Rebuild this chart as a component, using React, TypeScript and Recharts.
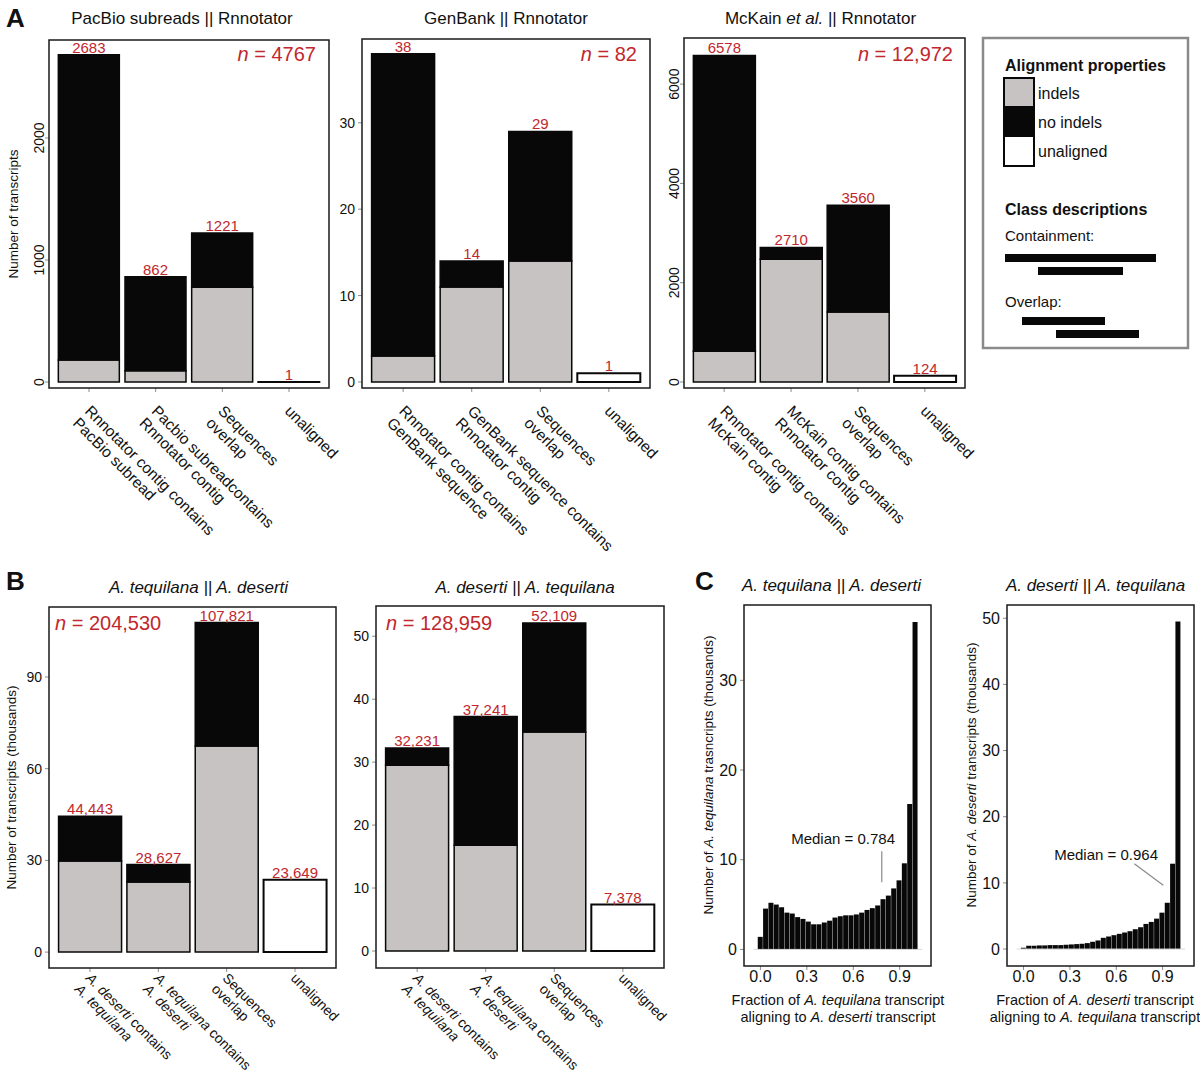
import React from 'react';
import { BarChart, Bar, XAxis, YAxis, LabelList, ReferenceLine, ReferenceDot } from 'recharts';

const FONT = '"Liberation Sans", Arial, Helvetica, sans-serif';
const RED = '#c1272d';
const GREY = '#c6c3c2';
const INK = '#080808';
const TICK_GREY = '#8c8c8c';

// A: PacBio subreads || Rnnotator
const pacbioCategories = ['Rnnotator contig contains|PacBio subread', 'Pacbio subreadcontains|Rnnotator contig', 'Sequences|overlap', 'unaligned'];
const pacbioIndels = [180, 92, 776, 0];
const pacbioNoIndels = [2503, 770, 445, 0];
const pacbioUnaligned = [0, 0, 0, 1];
const pacbioTotals = [2683, 862, 1221, 1];
const pacbioTicks = [0, 1000, 2000];

// A: GenBank || Rnnotator
const genbankCategories = ['Rnnotator contig contains|GenBank sequence', 'GenBank sequence contains|Rnnotator contig', 'Sequences|overlap', 'unaligned'];
const genbankIndels = [3, 11, 14, 0];
const genbankNoIndels = [35, 3, 15, 0];
const genbankUnaligned = [0, 0, 0, 1];
const genbankTotals = [38, 14, 29, 1];
const genbankTicks = [0, 10, 20, 30];

// A: McKain et al. || Rnnotator
const mckainCategories = ['Rnnotator contig contains|McKain contig', 'McKain contig contains|Rnnotator contig', 'Sequences|overlap', 'unaligned'];
const mckainIndels = [620, 2470, 1410, 0];
const mckainNoIndels = [5958, 240, 2150, 0];
const mckainUnaligned = [0, 0, 0, 124];
const mckainTotals = [6578, 2710, 3560, 124];
const mckainTicks = [0, 2000, 4000, 6000];

// B: agave comparisons (thousands)
const agaveCategories = ['_A. deserti_ contains|_A. tequilana_', '_A. tequilana_ contains|_A. deserti_', 'Sequences|overlap', 'unaligned'];
const tequilanaIndels = [29.8, 22.9, 67.4, 0];
const tequilanaNoIndels = [14.643, 5.727, 40.421, 0];
const tequilanaUnaligned = [0, 0, 0, 23.649];
const tequilanaTotals = [44443, 28627, 107821, 23649];
const tequilanaTicks = [0, 30, 60, 90];

const desertiIndels = [29.5, 16.8, 34.8, 0];
const desertiNoIndels = [2.731, 20.441, 17.309, 0];
const desertiUnaligned = [0, 0, 0, 7.378];
const desertiTotals = [32231, 37241, 52109, 7378];
const desertiTicks = [0, 10, 20, 30, 40, 50];

// C: histograms, 30 bins (thousands)
const binCenters = [0, 0.0345, 0.069, 0.1034, 0.1379, 0.1724, 0.2069, 0.2414, 0.2759, 0.3103, 0.3448, 0.3793, 0.4138, 0.4483, 0.4828, 0.5172, 0.5517, 0.5862, 0.6207, 0.6552, 0.6897, 0.7241, 0.7586, 0.7931, 0.8276, 0.8621, 0.8966, 0.931, 0.9655, 1];
const tequilanaHist = [1.4, 4.55, 5.2, 5.0, 4.7, 4.1, 4.0, 3.6, 3.4, 3.1, 2.8, 2.8, 3.0, 3.2, 3.55, 3.7, 3.8, 3.8, 3.9, 4.1, 4.4, 4.6, 4.9, 5.6, 6.0, 6.8, 7.7, 9.6, 16.2, 36.5];
const desertiHist = [0.2, 0.5, 0.5, 0.55, 0.55, 0.6, 0.6, 0.6, 0.65, 0.7, 0.75, 0.8, 0.9, 1.1, 1.3, 1.7, 1.9, 2.1, 2.3, 2.5, 2.7, 3.0, 3.3, 3.8, 4.1, 4.6, 5.5, 7.0, 12.9, 49.5];
const histTicks = [0, 0.3, 0.6, 0.9];

type Box = { l: number; t: number; r: number; b: number };

const rich = (s: string) =>
  s.split('_').map((seg, j) => (
    <tspan key={j} fontStyle={j % 2 ? 'italic' : 'normal'}>{seg}</tspan>
  ));

const CategoryTick = (props: any) => {
  const { x, y, payload, drop, size } = props;
  const lines = String(payload.value).split('|');
  const ax = x - 5;
  const ay = y + drop;
  return (
    <text x={ax} y={ay} transform={`rotate(45, ${ax}, ${ay})`} fontSize={size} fill="#111" fontFamily={FONT}>
      {lines.map((ln, i) => (
        <tspan key={i} x={ax} dy={i === 0 ? 0 : '1.1em'}>{rich(ln)}</tspan>
      ))}
    </text>
  );
};

const RotatedTick = (props: any) => {
  const { x, y, payload } = props;
  const bx = x + 2;
  return (
    <text x={bx} y={y} transform={`rotate(-90, ${bx}, ${y})`} textAnchor="middle" fontSize={14} fill="#111" fontFamily={FONT}>
      {payload.value}
    </text>
  );
};

function StackPanel(p: {
  box: Box; domain: [number, number]; ticks: number[]; rotateTicks?: boolean; drop: number; catSize: number;
  categories: string[]; indels: number[]; noIndels: number[]; unaligned: number[]; totals: number[]; comma?: boolean;
}) {
  const { box } = p;
  const W = box.r - box.l;
  const H = box.b - box.t;
  const YW = 60, T = 30, R = 70, XH = 200;
  const data = p.categories.map((c, i) => {
    const label = p.comma ? p.totals[i].toLocaleString('en-US') : String(p.totals[i]);
    const onTop = p.unaligned[i] > 0;
    return {
      name: c,
      indels: p.indels[i],
      noIndels: p.noIndels[i],
      unaligned: p.unaligned[i],
      labelNo: onTop ? null : label,
      labelUn: onTop ? label : null,
    };
  });
  const labelStyle = { position: 'top' as const, offset: 2, fill: RED, fontSize: 15, fontFamily: FONT };
  return (
    <div style={{ position: 'absolute', left: box.l - YW, top: box.t - T }}>
      <BarChart width={YW + W + R} height={T + H + XH} data={data} margin={{ top: T, right: R, bottom: 0, left: 0 }} barCategoryGap="4%">
        <XAxis dataKey="name" type="category" height={XH} padding={{ left: W / 42, right: W / 42 }} axisLine={false}
          tickLine={{ stroke: TICK_GREY }} tickSize={4} tickMargin={2} interval={0}
          tick={<CategoryTick drop={p.drop} size={p.catSize} />} />
        <YAxis type="number" width={YW} domain={p.domain} ticks={p.ticks} allowDataOverflow axisLine={false}
          tickLine={{ stroke: TICK_GREY }} tickSize={4} tickMargin={3} interval={0}
          tick={p.rotateTicks ? <RotatedTick /> : { fontSize: 14, fill: '#111', fontFamily: FONT }} />
        <Bar dataKey="indels" stackId="s" fill={GREY} stroke={INK} strokeWidth={1.5} isAnimationActive={false} />
        <Bar dataKey="noIndels" stackId="s" fill={INK} stroke={INK} strokeWidth={1.5} isAnimationActive={false}>
          <LabelList dataKey="labelNo" {...labelStyle} />
        </Bar>
        <Bar dataKey="unaligned" stackId="s" fill="#ffffff" stroke={INK} strokeWidth={2} isAnimationActive={false}>
          <LabelList dataKey="labelUn" {...labelStyle} />
        </Bar>
      </BarChart>
    </div>
  );
}

function HistPanel(p: {
  box: Box; xDomain: [number, number]; yDomain: [number, number]; yTicks: number[]; counts: number[];
  median: string; line: { x: number; y: number }[]; textAt: { x: number; y: number };
}) {
  const { box } = p;
  const W = box.r - box.l;
  const H = box.b - box.t;
  const YW = 50, T = 10, R = 10, XH = 30;
  const data = binCenters.map((x, i) => ({ x, count: p.counts[i] }));
  return (
    <div style={{ position: 'absolute', left: box.l - YW, top: box.t - T }}>
      <BarChart width={YW + W + R} height={T + H + XH} data={data} margin={{ top: T, right: R, bottom: 0, left: 0 }} barCategoryGap={0} barGap={0}>
        <XAxis dataKey="x" type="number" domain={p.xDomain} ticks={histTicks} allowDataOverflow height={XH} axisLine={false}
          tickLine={{ stroke: TICK_GREY }} tickSize={4} tickMargin={1} interval={0}
          tickFormatter={(v: number) => v.toFixed(1)} tick={{ fontSize: 16, fill: '#111', fontFamily: FONT }} />
        <YAxis type="number" width={YW} domain={p.yDomain} ticks={p.yTicks} allowDataOverflow axisLine={false}
          tickLine={{ stroke: TICK_GREY }} tickSize={4} tickMargin={3} interval={0}
          tick={{ fontSize: 16, fill: '#111', fontFamily: FONT }} />
        <ReferenceLine segment={[{ x: -0.045, y: 0 }, { x: 1.045, y: 0 }]} stroke="#d9d9d9" strokeWidth={1} ifOverflow="visible" />
        <Bar dataKey="count" fill={INK} isAnimationActive={false} />
        <ReferenceLine segment={p.line} stroke="#8a8a8a" strokeWidth={1.2} ifOverflow="visible" />
        <ReferenceDot x={p.textAt.x} y={p.textAt.y} r={0} fill="none" stroke="none" ifOverflow="visible"
          label={{ value: p.median, position: 'center', fontSize: 15, fill: '#111', fontFamily: FONT }} />
      </BarChart>
    </div>
  );
}

const boxA1: Box = { l: 49, t: 40, r: 329, b: 388 };
const boxA2: Box = { l: 362, t: 39, r: 650, b: 388 };
const boxA3: Box = { l: 684, t: 38, r: 965, b: 388 };
const boxB1: Box = { l: 49, t: 607, r: 336, b: 968 };
const boxB2: Box = { l: 376, t: 606, r: 664, b: 968 };
const boxC1: Box = { l: 744, t: 605, r: 931, b: 966 };
const boxC2: Box = { l: 1007, t: 605, r: 1194, b: 966 };

const frames = [boxA1, boxA2, boxA3, boxB1, boxB2, boxC1, boxC2];
const cx = (b: Box) => (b.l + b.r) / 2;
const cy = (b: Box) => (b.t + b.b) / 2;

function Overlay() {
  const txt = { fontFamily: FONT, fill: '#111' };
  return (
    <svg width={1200} height={1075} style={{ position: 'absolute', left: 0, top: 0, pointerEvents: 'none' }}>
      {frames.map((b, i) => (
        <rect key={i} x={b.l} y={b.t} width={b.r - b.l} height={b.b - b.t} fill="none" stroke="#1a1a1a" strokeWidth={1.5} />
      ))}
      {/* panel letters */}
      <text x={6} y={27} fontSize={26} fontWeight="bold" {...txt}>A</text>
      <text x={6} y={590} fontSize={26} fontWeight="bold" {...txt}>B</text>
      <text x={695} y={590} fontSize={26} fontWeight="bold" {...txt}>C</text>

      {/* titles */}
      <text x={182} y={24} fontSize={17} textAnchor="middle" {...txt}>{rich('PacBio subreads || Rnnotator')}</text>
      <text x={cx(boxA2)} y={24} fontSize={17} textAnchor="middle" {...txt}>{rich('GenBank || Rnnotator')}</text>
      <text x={cx(boxA3) - 4} y={24} fontSize={17} textAnchor="middle" {...txt}>{rich('McKain _et al._ || Rnnotator')}</text>
      <text x={cx(boxB1) + 6} y={593} fontSize={17} textAnchor="middle" {...txt}>{rich('_A. tequilana || A. deserti_')}</text>
      <text x={cx(boxB2) + 5} y={593} fontSize={17} textAnchor="middle" {...txt}>{rich('_A. deserti || A. tequilana_')}</text>
      <text x={cx(boxC1) - 6} y={591} fontSize={17} textAnchor="middle" {...txt}>{rich('_A. tequilana || A. deserti_')}</text>
      <text x={cx(boxC2) - 5} y={591} fontSize={17} textAnchor="middle" {...txt}>{rich('_A. deserti || A. tequilana_')}</text>

      {/* n labels */}
      <text x={316} y={61} fontSize={20} textAnchor="end" fontFamily={FONT} fill={RED}>{rich('_n_ = 4767')}</text>
      <text x={637} y={61} fontSize={20} textAnchor="end" fontFamily={FONT} fill={RED}>{rich('_n_ = 82')}</text>
      <text x={953} y={61} fontSize={20} textAnchor="end" fontFamily={FONT} fill={RED}>{rich('_n_ = 12,972')}</text>
      <text x={55} y={630} fontSize={20} fontFamily={FONT} fill={RED}>{rich('_n_ = 204,530')}</text>
      <text x={386} y={630} fontSize={20} fontFamily={FONT} fill={RED}>{rich('_n_ = 128,959')}</text>

      {/* axis titles */}
      <text x={18} y={cy(boxA1)} transform={`rotate(-90, 18, ${cy(boxA1)})`} fontSize={13.5} textAnchor="middle" {...txt}>Number of transcripts</text>
      <text x={16} y={cy(boxB1)} transform={`rotate(-90, 16, ${cy(boxB1)})`} fontSize={13.5} textAnchor="middle" {...txt}>Number of transcripts (thousands)</text>
      <text x={713} y={775} transform="rotate(-90, 713, 775)" fontSize={13.5} textAnchor="middle" {...txt}>{rich('Number of _A. tequilana_ trasncripts (thousands)')}</text>
      <text x={976} y={775} transform="rotate(-90, 976, 775)" fontSize={13.5} textAnchor="middle" {...txt}>{rich('Number of _A. deserti_ transcripts (thousands)')}</text>
      <text x={838} y={1005} fontSize={14.5} textAnchor="middle" {...txt}>{rich('Fraction of _A. tequilana_ transcript')}</text>
      <text x={838} y={1022} fontSize={14.5} textAnchor="middle" {...txt}>{rich('aligning to _A. deserti_ transcript')}</text>
      <text x={1095} y={1005} fontSize={14.5} textAnchor="middle" {...txt}>{rich('Fraction of _A. deserti_ transcript')}</text>
      <text x={1095} y={1022} fontSize={14.5} textAnchor="middle" {...txt}>{rich('aligning to _A. tequilana_ transcript')}</text>

      {/* legend */}
      <rect x={983} y={38} width={205} height={310} fill="#fff" stroke="#8a8a8a" strokeWidth={2.5} />
      <text x={1005} y={71} fontSize={16} fontWeight="bold" {...txt}>Alignment properties</text>
      <rect x={1004} y={78} width={30} height={29} fill={GREY} stroke={INK} strokeWidth={2} />
      <rect x={1004} y={107} width={30} height={29} fill={INK} stroke={INK} strokeWidth={2} />
      <rect x={1004} y={136} width={30} height={30} fill="#fff" stroke={INK} strokeWidth={2} />
      <text x={1038} y={99} fontSize={16} {...txt}>indels</text>
      <text x={1038} y={128} fontSize={16} {...txt}>no indels</text>
      <text x={1038} y={157} fontSize={16} {...txt}>unaligned</text>
      <text x={1005} y={215} fontSize={16} fontWeight="bold" {...txt}>Class descriptions</text>
      <text x={1005} y={241} fontSize={15} {...txt}>Containment:</text>
      <rect x={1005} y={254} width={151} height={8} fill={INK} />
      <rect x={1038} y={267} width={85} height={8} fill={INK} />
      <text x={1005} y={307} fontSize={15} {...txt}>Overlap:</text>
      <rect x={1022} y={317} width={83} height={8} fill={INK} />
      <rect x={1056} y={330} width={83} height={8} fill={INK} />
    </svg>
  );
}

export default function App() {
  return (
    <div style={{ position: 'fixed', left: 0, top: 0, width: 1200, height: 1075, overflow: 'hidden', background: '#fff', fontFamily: FONT }}>
      <StackPanel box={boxA1} domain={[-49, 2803]} ticks={pacbioTicks} rotateTicks drop={18} catSize={15.5} categories={pacbioCategories}
        indels={pacbioIndels} noIndels={pacbioNoIndels} unaligned={pacbioUnaligned} totals={pacbioTotals} />
      <StackPanel box={boxA2} domain={[-0.7, 39.7]} ticks={genbankTicks} drop={18} catSize={15.5} categories={genbankCategories}
        indels={genbankIndels} noIndels={genbankNoIndels} unaligned={genbankUnaligned} totals={genbankTotals} />
      <StackPanel box={boxA3} domain={[-121, 6929]} ticks={mckainTicks} rotateTicks drop={18} catSize={15.5} categories={mckainCategories}
        indels={mckainIndels} noIndels={mckainNoIndels} unaligned={mckainUnaligned} totals={mckainTotals} />
      <StackPanel box={boxB1} domain={[-5.2, 112.9]} ticks={tequilanaTicks} drop={5} catSize={14} categories={agaveCategories}
        indels={tequilanaIndels} noIndels={tequilanaNoIndels} unaligned={tequilanaUnaligned} totals={tequilanaTotals} comma />
      <StackPanel box={boxB2} domain={[-2.7, 54.8]} ticks={desertiTicks} drop={5} catSize={14} categories={agaveCategories}
        indels={desertiIndels} noIndels={desertiNoIndels} unaligned={desertiUnaligned} totals={desertiTotals} comma />
      <HistPanel box={boxC1} xDomain={[-0.106, 1.102]} yDomain={[-1.85, 38.4]} yTicks={[0, 10, 20, 30]} counts={tequilanaHist}
        median="Median = 0.784" line={[{ x: 0.784, y: 10.95 }, { x: 0.784, y: 7.5 }]} textAt={{ x: 0.534, y: 12.4 }} />
      <HistPanel box={boxC2} xDomain={[-0.107, 1.103]} yDomain={[-2.56, 52.0]} yTicks={[0, 10, 20, 30, 40, 50]} counts={desertiHist}
        median="Median = 0.964" line={[{ x: 0.717, y: 12.9 }, { x: 0.904, y: 9.65 }]} textAt={{ x: 0.534, y: 14.3 }} />
      <Overlay />
    </div>
  );
}
